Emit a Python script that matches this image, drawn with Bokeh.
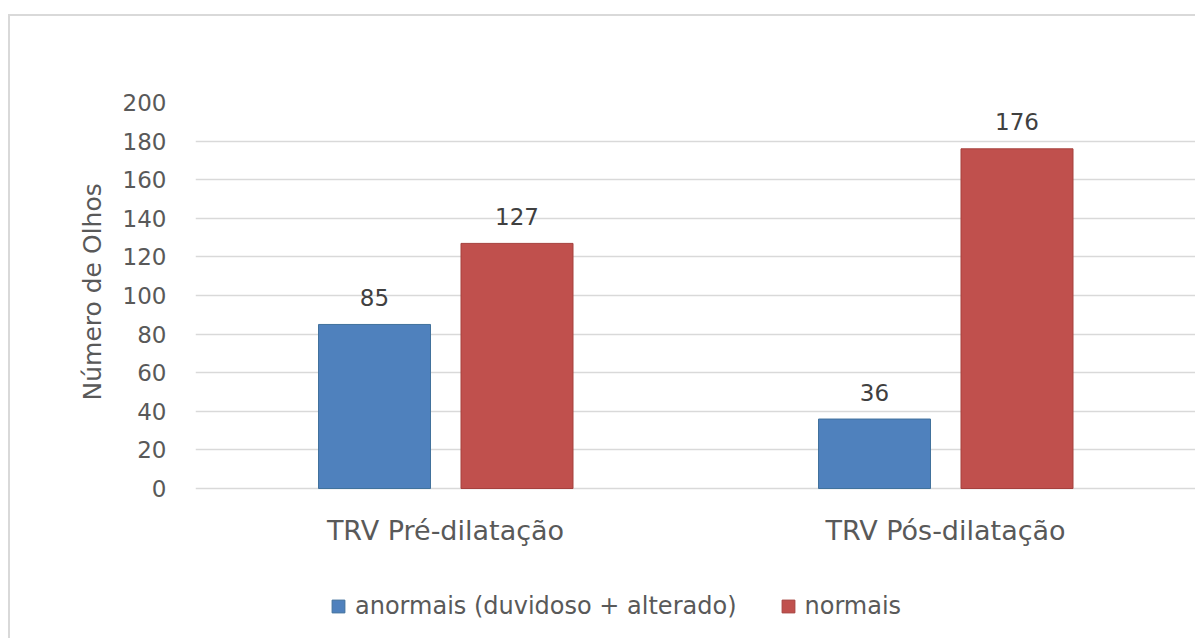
from bokeh.plotting import figure
from bokeh.models import (FactorRange, Range1d, Legend, LegendItem, ColumnDataSource, LabelSet,
                          FixedTicker, Title)
from bokeh.transform import dodge
from bokeh.core.properties import value
from bokeh.embed import file_html
from bokeh.resources import INLINE

categories = ["TRV Pré-dilatação", "TRV Pós-dilatação"]
anormais = [85, 36]
normais = [127, 176]
series_names = ["anormais (duvidoso + alterado)", "normais"]
y_ticks = [0, 20, 40, 60, 80, 100, 120, 140, 160, 180, 200]
y_title = "Número de Olhos"

FONT = "DejaVu Sans"
src = ColumnDataSource(dict(
    cat=categories, anormais=anormais, normais=normais, base=[0] * len(categories),
    lab_a=[str(v) for v in anormais], lab_n=[str(v) for v in normais]))

# the plotting area reaches down to hold the category labels and the legend
p = figure(x_range=FactorRange(*categories, range_padding=0), y_range=Range1d(-74.6, 200),
           width=1187, height=624, output_backend="svg", toolbar_location=None,
           min_border_left=185, min_border_right=2, min_border_top=86, min_border_bottom=8)
p.styles = {"border-left": "2px solid #d9d9d9", "border-top": "2px solid #d9d9d9",
            "position": "relative", "top": "14px", "left": "8px"}
p.outline_line_color = None
p.background_fill_color = "white"
p.border_fill_color = "white"

p.xgrid.grid_line_color = None
p.ygrid.grid_line_color = "#d9d9d9"
p.ygrid.grid_line_width = 1.5
p.yaxis.ticker = FixedTicker(ticks=y_ticks)
p.xaxis.visible = False

ya = p.yaxis[0]
ya.axis_line_color = None
ya.major_tick_line_color = None
ya.minor_tick_line_color = None
ya.major_tick_out = 0
ya.major_tick_in = 0
ya.major_label_text_font = FONT
ya.major_label_text_color = "#595959"
ya.major_label_text_font_size = "23px"
ya.major_label_standoff = 29

p.add_layout(Title(text=y_title, align="left", offset=232, standoff=26,
                   text_font=FONT, text_font_size="25px", text_font_style="normal",
                   text_color="#595959"), "left")

r1 = p.vbar(x=dodge("cat", -0.142, range=p.x_range), top="anormais", width=0.224, source=src,
            fill_color="#4f81bd", line_color="#41719c", line_width=1)
r2 = p.vbar(x=dodge("cat", 0.143, range=p.x_range), top="normais", width=0.224, source=src,
            fill_color="#c0504d", line_color="#a5403d", line_width=1)

for xo, col, lab in ((-0.142, "anormais", "lab_a"), (0.143, "normais", "lab_n")):
    p.add_layout(LabelSet(x=dodge("cat", xo, range=p.x_range), y=col, text=lab, source=src,
                          y_offset=27, text_align="center", text_baseline="middle",
                          text_font=value(FONT), text_font_size="23px", text_color="#404040"))

# category labels under the baseline
p.add_layout(LabelSet(x="cat", y="base", text="cat", source=src, y_offset=-42,
                      text_align="center", text_baseline="middle",
                      text_font=value(FONT), text_font_size="27px", text_color="#595959"))

legend = Legend(items=[LegendItem(label=series_names[0], renderers=[r1]),
                       LegendItem(label=series_names[1], renderers=[r2])],
                location=(135, 12), orientation="horizontal",
                glyph_width=16, glyph_height=16, label_standoff=9, spacing=43,
                padding=0, margin=0, border_line_color=None, background_fill_alpha=0,
                label_text_font=FONT, label_text_font_size="24px", label_text_color="#595959",
                label_height=24)
p.add_layout(legend, "center")

open("out.html", "w").write(file_html(p, INLINE))
